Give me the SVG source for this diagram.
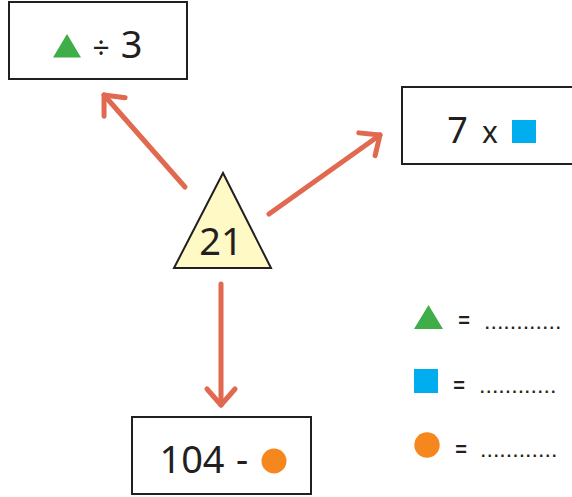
<svg xmlns="http://www.w3.org/2000/svg" width="572" height="497" viewBox="0 0 572 497">
<style>
.box{fill:#fff;stroke:#231f20;stroke-width:2}
.t{font-family:"Noto Sans","DejaVu Sans",sans-serif;font-weight:400;fill:#231f20}
.eq{font-family:"Liberation Sans",Arial,sans-serif;font-weight:bold;font-size:20px;fill:#231f20}
.dots{font-family:"Liberation Sans",Arial,sans-serif;font-weight:bold;font-size:16px;letter-spacing:2px;fill:#231f20}
.arr{fill:none;stroke:#e0694f;stroke-width:5;stroke-linecap:round;marker-end:url(#head)}
.green{fill:#3fae49}.blue{fill:#00aeef}.orange{fill:#f6871f}
</style>
<defs>
<marker id="head" markerUnits="userSpaceOnUse" markerWidth="40" markerHeight="40" refX="0" refY="0" orient="auto" overflow="visible">
<path d="M -16,-14 L 0,0 L -16,14" fill="none" stroke="#e0694f" stroke-width="5" stroke-linecap="round" stroke-linejoin="round"/>
</marker>
</defs>
<rect width="572" height="497" fill="#fff"/>
<g id="connectors">
<line class="arr" x1="185" y1="187" x2="104" y2="95"/>
<line class="arr" x1="269" y1="214" x2="380" y2="135"/>
<line class="arr" x1="221" y1="284" x2="221" y2="405"/>
</g>
<g id="node-center">
<polygon points="223,173 174,268 271,268" fill="#fff9c5" stroke="#231f20" stroke-width="2"/>
<text class="t" x="221" y="255" font-size="38" text-anchor="middle">21</text>
</g>
<g id="node-divide">
<rect class="box" x="9" y="2" width="178" height="77"/>
<polygon class="green" points="53,57.5 67,34 81,57.5"/>
<text class="t" x="101" y="59" font-size="30" text-anchor="middle">÷</text>
<text class="t" x="131.5" y="58" font-size="38" text-anchor="middle">3</text>
</g>
<g id="node-multiply">
<rect class="box" x="402" y="87" width="180" height="77"/>
<text class="t" x="457.5" y="143" font-size="36" text-anchor="middle">7</text>
<text class="t" x="490" y="143" font-size="30" text-anchor="middle">x</text>
<rect class="blue" x="512" y="120" width="24" height="23"/>
</g>
<g id="node-subtract">
<rect class="box" x="132" y="417" width="179" height="77"/>
<text class="t" x="192" y="473" font-size="38" text-anchor="middle">104</text>
<text class="t" x="242" y="473" font-size="38" text-anchor="middle">-</text>
<circle class="orange" cx="274" cy="461" r="12.5"/>
</g>
<g id="legend">
<polygon class="green" points="414,329 428.5,305 443,329"/>
<text class="eq" x="464" y="327" text-anchor="middle">=</text>
<text class="dots" x="485" y="329">............</text>
<rect class="blue" x="414" y="369" width="24" height="24"/>
<text class="eq" x="459" y="392" text-anchor="middle">=</text>
<text class="dots" x="480" y="393">............</text>
<circle class="orange" cx="427" cy="445" r="12.7"/>
<text class="eq" x="461" y="456" text-anchor="middle">=</text>
<text class="dots" x="481" y="457">............</text>
</g>
</svg>
